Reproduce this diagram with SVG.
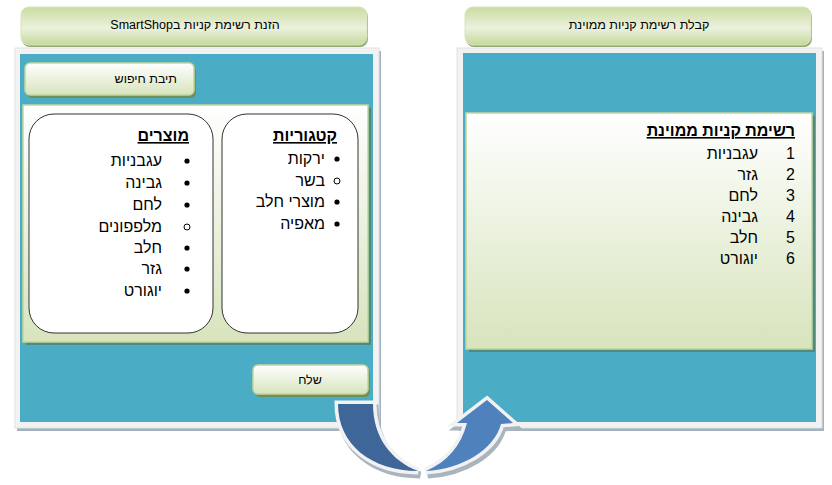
<svg xmlns="http://www.w3.org/2000/svg" width="832" height="485" viewBox="0 0 832 485">
<style>
.frame{fill:#f2f2f2;stroke:#e2e2e2;stroke-width:1}
.fshadow{fill:#a3b3bd}
.blue{fill:#4bacc6}
.gpanel{fill:url(#gpanel);stroke:#c3d69b;stroke-width:1.5}
.gshadow{fill:#4d8a7f}
.hdr{fill:url(#ghdr);stroke:#d7e4bd;stroke-width:1}
.hshadow{fill:#8fa870}
.btn{fill:url(#gbtn);stroke:#c3d69b;stroke-width:1.5}
.bshadow{fill:#6f8f57}
.box{fill:#fff;stroke:#333;stroke-width:1}
.t{font-family:"Liberation Sans",Arial,sans-serif;fill:#000}
.small{font-size:12.5px}
.item{font-size:16px}
.ttl{font-size:16px;font-weight:bold;text-decoration:underline}
.dot{fill:#000}
.hol{fill:none;stroke:#000;stroke-width:1}
.arrow-out{stroke:#f2f2f2;stroke-width:7;stroke-linejoin:miter;paint-order:stroke}
.arrow-sh{fill:#a9b4bf;stroke:#a9b4bf;stroke-width:7}
</style>
<defs>
<linearGradient id="gpanel" x1="0" y1="0" x2="0" y2="1">
<stop offset="0" stop-color="#ffffff"/>
<stop offset="1" stop-color="#d7e4bd"/>
</linearGradient>
<linearGradient id="ghdr" x1="0" y1="0" x2="0" y2="1">
<stop offset="0" stop-color="#cadc9f"/>
<stop offset="0.55" stop-color="#ebf1de"/>
<stop offset="1" stop-color="#c6d99b"/>
</linearGradient>
<linearGradient id="gbtn" x1="0" y1="0" x2="0" y2="1">
<stop offset="0" stop-color="#ffffff"/>
<stop offset="1" stop-color="#d7e4bd"/>
</linearGradient>
</defs>

<g id="left-panel">
<rect class="fshadow" x="17" y="51" width="364" height="380"/>
<rect class="frame" x="15" y="48" width="364" height="380"/>
<rect class="blue" x="20" y="54" width="353" height="368"/>
</g>

<g id="left-header">
<rect class="hshadow" x="22" y="9" width="346" height="38" rx="8"/>
<rect class="hdr" x="21" y="7" width="346" height="38" rx="8"/>
<text class="t small" x="195" y="29" text-anchor="middle" direction="rtl">הזנת רשימת קניות בSmartShop</text>
</g>

<g id="search-box">
<rect class="bshadow" x="27" y="66" width="169" height="32" rx="5"/>
<rect class="btn" x="25" y="63" width="169" height="32" rx="5"/>
<text class="t small" x="177" y="83" text-anchor="start" direction="rtl">תיבת חיפוש</text>
</g>

<g id="selection-area">
<rect class="gshadow" x="26" y="108" width="345" height="237"/>
<rect class="gpanel" x="23" y="105" width="345" height="237"/>
</g>

<g id="products">
<rect class="box" x="29" y="114" width="184" height="219" rx="25"/>
<text class="t ttl" x="189" y="141" text-anchor="start" direction="rtl">מוצרים</text>
<circle class="dot" cx="187" cy="161" r="2.6"/>
<text class="t item" x="162" y="166" text-anchor="start" direction="rtl">עגבניות</text>
<circle class="dot" cx="187" cy="183" r="2.6"/>
<text class="t item" x="162" y="188" text-anchor="start" direction="rtl">גבינה</text>
<circle class="dot" cx="187" cy="205" r="2.6"/>
<text class="t item" x="162" y="210" text-anchor="start" direction="rtl">לחם</text>
<circle class="hol" cx="187" cy="227" r="3"/>
<text class="t item" x="162" y="232" text-anchor="start" direction="rtl">מלפפונים</text>
<circle class="dot" cx="187" cy="248" r="2.6"/>
<text class="t item" x="162" y="253" text-anchor="start" direction="rtl">חלב</text>
<circle class="dot" cx="187" cy="269" r="2.6"/>
<text class="t item" x="162" y="274" text-anchor="start" direction="rtl">גזר</text>
<circle class="dot" cx="187" cy="291" r="2.6"/>
<text class="t item" x="162" y="296" text-anchor="start" direction="rtl">יוגורט</text>
</g>

<g id="categories">
<rect class="box" x="222" y="114" width="136" height="219" rx="25"/>
<text class="t ttl" x="337" y="141" text-anchor="start" direction="rtl">קטגוריות</text>
<circle class="dot" cx="337" cy="159" r="2.6"/>
<text class="t item" x="325" y="164" text-anchor="start" direction="rtl">ירקות</text>
<circle class="hol" cx="337" cy="181" r="3"/>
<text class="t item" x="325" y="186" text-anchor="start" direction="rtl">בשר</text>
<circle class="dot" cx="337" cy="202" r="2.6"/>
<text class="t item" x="325" y="207" text-anchor="start" direction="rtl">מוצרי חלב</text>
<circle class="dot" cx="337" cy="224" r="2.6"/>
<text class="t item" x="325" y="229" text-anchor="start" direction="rtl">מאפיה</text>
</g>

<g id="send-button">
<rect class="bshadow" x="255" y="368" width="115" height="29" rx="5"/>
<rect class="btn" x="253" y="365" width="115" height="29" rx="5"/>
<text class="t small" x="310" y="384" text-anchor="middle" direction="rtl">שלח</text>
</g>

<g id="right-panel">
<rect class="fshadow" x="459" y="51" width="365" height="380"/>
<rect class="frame" x="457" y="48" width="365" height="380"/>
<rect class="blue" x="463" y="53" width="353" height="369"/>
</g>

<g id="right-header">
<rect class="hshadow" x="466" y="9" width="346" height="38" rx="8"/>
<rect class="hdr" x="465" y="7" width="346" height="38" rx="8"/>
<text class="t small" x="639" y="29" text-anchor="middle" direction="rtl">קבלת רשימת קניות ממוינת</text>
</g>

<g id="sorted-list">
<rect class="gshadow" x="469" y="116" width="346" height="236"/>
<rect class="gpanel" x="466" y="113" width="346" height="236"/>
<text class="t ttl" x="795" y="136" text-anchor="start" direction="rtl">רשימת קניות ממוינת</text>
<text class="t item" x="795" y="159" text-anchor="end">1</text>
<text class="t item" x="758" y="159" text-anchor="start" direction="rtl">עגבניות</text>
<text class="t item" x="795" y="180" text-anchor="end">2</text>
<text class="t item" x="758" y="180" text-anchor="start" direction="rtl">גזר</text>
<text class="t item" x="795" y="201" text-anchor="end">3</text>
<text class="t item" x="758" y="201" text-anchor="start" direction="rtl">לחם</text>
<text class="t item" x="795" y="222" text-anchor="end">4</text>
<text class="t item" x="758" y="222" text-anchor="start" direction="rtl">גבינה</text>
<text class="t item" x="795" y="243" text-anchor="end">5</text>
<text class="t item" x="758" y="243" text-anchor="start" direction="rtl">חלב</text>
<text class="t item" x="795" y="264" text-anchor="end">6</text>
<text class="t item" x="758" y="264" text-anchor="start" direction="rtl">יוגורט</text>
</g>

<g id="connectors">
<g transform="translate(2,4)">
<path class="arrow-sh" d="M338,404 L373,404 C373,438 392,461 418,471 C372,471 338,445 338,404 Z"/>
<path class="arrow-sh" d="M426,471 C462,469 494,450 501,424 L513,423 L487,400 L457,423 L467,423 C461,446 447,462 426,471 Z"/>
</g>
<path class="arrow-out" fill="#3e6698" d="M338,404 L373,404 C373,438 392,461 418,471 C372,471 338,445 338,404 Z"/>
<path class="arrow-out" fill="#4f81bd" d="M426,471 C462,469 494,450 501,424 L513,423 L487,400 L457,423 L467,423 C461,446 447,462 426,471 Z"/>
</g>
</svg>
